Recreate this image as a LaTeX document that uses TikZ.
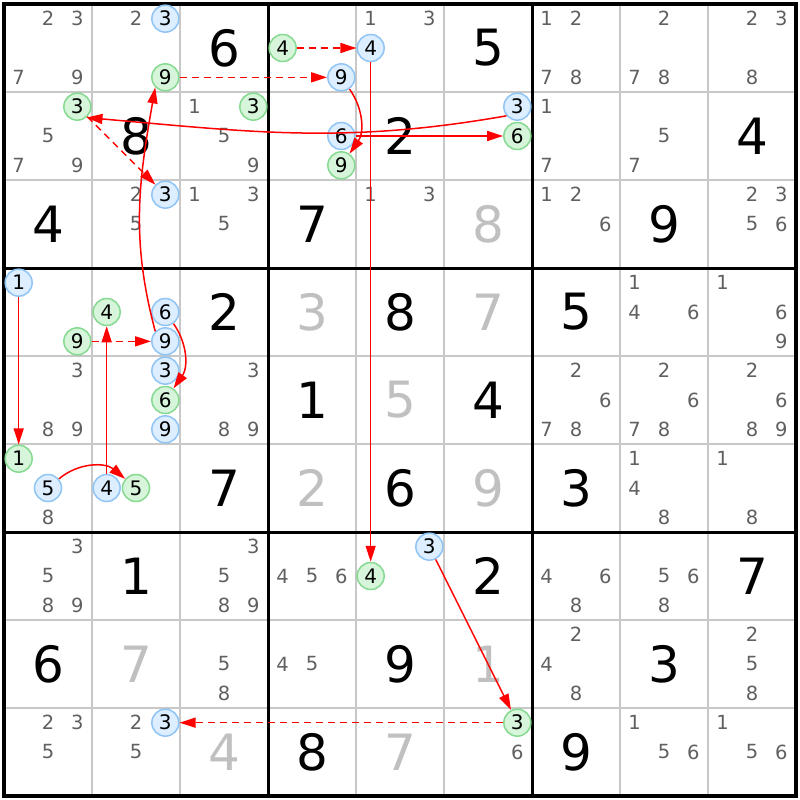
\documentclass[tikz,border=0pt]{standalone}
\usepackage{fontspec}
\setmainfont{DejaVu Sans}
\usetikzlibrary{arrows.meta}
\definecolor{candgray}{HTML}{606060}
\definecolor{solvedgray}{HTML}{C0C0C0}
\definecolor{gridgray}{HTML}{C8C8C8}
\definecolor{bluefill}{HTML}{DCEEFF}
\definecolor{bluedraw}{HTML}{90C4F4}
\definecolor{greenfill}{HTML}{D6F5DA}
\definecolor{greendraw}{HTML}{86D990}
\definecolor{linkred}{HTML}{FF0000}
\newcommand\circd[4]{%
  \pgfmathsetmacro\px{4+88*(#3-1)+88*(2*mod(#4-1,3)+1)/6}%
  \pgfmathsetmacro\py{4+88*(#2-1)+88*(2*floor((#4-1)/3)+1)/6}%
  \node[#1] (c#2#3#4) at (\px,-\py) {#4};}
\begin{document}
\begin{tikzpicture}[x=1pt,y=1pt,
  cand/.style={text=candgray,font=\fontsize{19.5}{19.5}\selectfont,inner sep=0pt},
  bigd/.style={font=\fontsize{50}{50}\selectfont,inner sep=0pt},
  bluec/.style={circle,draw=bluedraw,fill=bluefill,line width=1.5pt,minimum size=27pt,inner sep=0pt,font=\fontsize{20}{20}\selectfont},
  greenc/.style={circle,draw=greendraw,fill=greenfill,line width=1.5pt,minimum size=27pt,inner sep=0pt,font=\fontsize{20}{20}\selectfont},
  link/.style={draw=linkred,line width=1.5pt,-{Triangle[length=16pt,width=10pt]}},
  weak/.style={link,dash pattern=on 7pt off 5pt}]
\useasboundingbox (0,0) rectangle (800,-800);
\fill[white] (0,0) rectangle (800,-800);
% thin grid
\foreach \i in {1,2,4,5,7,8} {
  \draw[gridgray,line width=1.5pt] ({4+88*\i},-4) -- ({4+88*\i},-796);
  \draw[gridgray,line width=1.5pt] (4,{-(4+88*\i)}) -- (796,{-(4+88*\i)});
}
% thick grid
\foreach \i in {3,6} {
  \draw[black,line width=3pt] ({4+88*\i},-4) -- ({4+88*\i},-796);
  \draw[black,line width=3pt] (4,{-(4+88*\i)}) -- (796,{-(4+88*\i)});
}
\draw[black,line width=3.5pt] (4,-4) rectangle (796,-796);
% big digits
\foreach \r/\c/\d/\col in {1/3/6/black,1/6/5/black,
  2/2/8/black,2/5/2/black,2/9/4/black,
  3/1/4/black,3/4/7/black,3/6/8/solvedgray,3/8/9/black,
  4/3/2/black,4/4/3/solvedgray,4/5/8/black,4/6/7/solvedgray,4/7/5/black,
  5/4/1/black,5/5/5/solvedgray,5/6/4/black,
  6/3/7/black,6/4/2/solvedgray,6/5/6/black,6/6/9/solvedgray,6/7/3/black,
  7/2/1/black,7/6/2/black,7/9/7/black,
  8/1/6/black,8/2/7/solvedgray,8/5/9/black,8/6/1/solvedgray,8/8/3/black,
  9/3/4/solvedgray,9/4/8/black,9/5/7/solvedgray,9/7/9/black} {
  \node[bigd,text=\col] (g-\r-\c) at ({4+88*(\c-1)+44},{-(4+88*(\r-1)+44)}) {\d};
}
% candidates
\foreach \r/\c/\ds in {1/1/{2,3,7,9},1/2/{2},1/5/{1,3},1/7/{1,2,7,8},1/8/{2,7,8},1/9/{2,3,8},
  2/1/{5,7,9},2/3/{1,5,9},2/7/{1,7},2/8/{5,7},
  3/2/{2,5},3/3/{1,3,5},3/5/{1,3},3/7/{1,2,6},3/9/{2,3,5,6},
  4/8/{1,4,6},4/9/{1,6,9},
  5/1/{3,8,9},5/3/{3,8,9},5/7/{2,6,7,8},5/8/{2,6,7,8},5/9/{2,6,8,9},
  6/1/{8},6/8/{1,4,8},6/9/{1,8},
  7/1/{3,5,8,9},7/3/{3,5,8,9},7/4/{4,5,6},7/7/{4,6,8},7/8/{5,6,8},
  8/3/{5,8},8/4/{4,5},8/7/{2,4,8},8/9/{2,5,8},
  9/1/{2,3,5},9/2/{2,5},9/6/{6},9/8/{1,5,6},9/9/{1,5,6}} {
  \foreach \d in \ds {
    \pgfmathsetmacro\px{4+88*(\c-1)+88*(2*mod(\d-1,3)+1)/6}
    \pgfmathsetmacro\py{4+88*(\r-1)+88*(2*floor((\d-1)/3)+1)/6}
    \node[cand] (k-\r-\c-\d) at (\px,-\py) {\d};
  }
}
% circled candidates
\circd{bluec}{1}{2}{3}
\circd{greenc}{1}{2}{9}
\circd{greenc}{1}{4}{4}
\circd{bluec}{1}{4}{9}
\circd{bluec}{1}{5}{4}
\circd{greenc}{2}{1}{3}
\circd{greenc}{2}{3}{3}
\circd{bluec}{2}{4}{6}
\circd{greenc}{2}{4}{9}
\circd{bluec}{2}{6}{3}
\circd{greenc}{2}{6}{6}
\circd{bluec}{3}{2}{3}
\circd{bluec}{4}{1}{1}
\circd{greenc}{4}{1}{9}
\circd{greenc}{4}{2}{4}
\circd{bluec}{4}{2}{6}
\circd{bluec}{4}{2}{9}
\circd{bluec}{5}{2}{3}
\circd{greenc}{5}{2}{6}
\circd{bluec}{5}{2}{9}
\circd{greenc}{6}{1}{1}
\circd{bluec}{6}{1}{5}
\circd{bluec}{6}{2}{4}
\circd{greenc}{6}{2}{5}
\circd{bluec}{7}{5}{3}
\circd{greenc}{7}{5}{4}
\circd{bluec}{9}{2}{3}
\circd{greenc}{9}{6}{3}
% links
\draw[weak] (c144) -- (c154);
\draw[weak] (c129) -- (c149);
\draw[link] (c154) -- (c754);
\draw[link] (c149) to[bend left=35] (c249);
\draw[link] (c263.220) to[out=190,in=-5] (c213.-50);
\draw[link] (c246) -- (c266);
\draw[weak] (c213) -- (c323);
\draw[link] (c429.135) to[out=105,in=-100] (c129.-135);
\draw[link] (c426) to[bend left=35] (c526);
\draw[weak] (c419) -- (c429);
\draw[link] (c624) -- (c424);
\draw[link] (c411) -- (c611);
\draw[link] (c615) to[bend left=40] (c625);
\draw[link] (c753) -- (c963);
\draw[weak] (c963) -- (c923);
\end{tikzpicture}
\end{document}
